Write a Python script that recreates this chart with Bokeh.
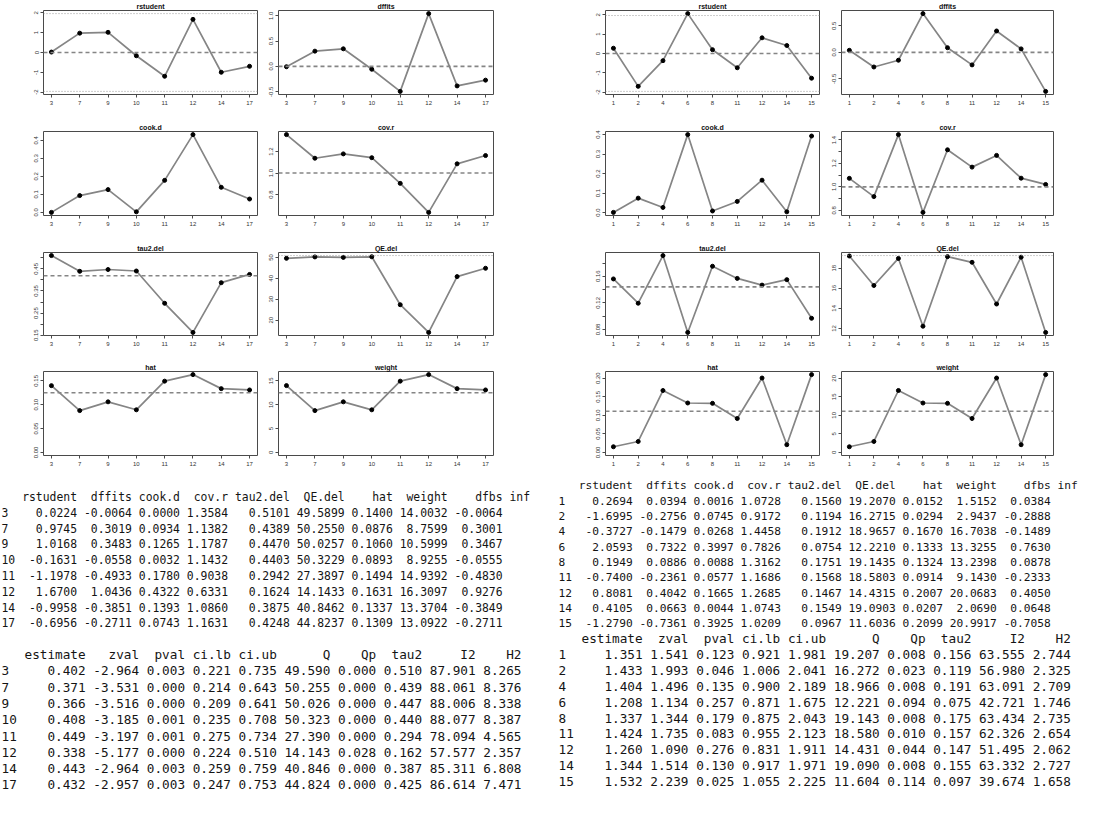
from bokeh.plotting import figure
from bokeh.layouts import column, row
from bokeh.models import Range1d, FixedTicker, CustomJSTickFormatter, Span, ColumnDataSource
from bokeh.embed import file_html
from bokeh.resources import INLINE
from bokeh.core.properties import value

# ---------------- data: left analysis ----------------
ids_L = [3, 7, 9, 10, 11, 12, 14, 17]
rstudent_L = [0.0224, 0.9745, 1.0168, -0.1631, -1.1978, 1.6700, -0.9958, -0.6956]
dffits_L = [-0.0064, 0.3019, 0.3483, -0.0558, -0.4933, 1.0436, -0.3851, -0.2711]
cookd_L = [0.0000, 0.0934, 0.1265, 0.0032, 0.1780, 0.4322, 0.1393, 0.0743]
covr_L = [1.3584, 1.1382, 1.1787, 1.1432, 0.9038, 0.6331, 1.0860, 1.1631]
tau2del_L = [0.5101, 0.4389, 0.4470, 0.4403, 0.2942, 0.1624, 0.3875, 0.4248]
QEdel_L = [49.5899, 50.2550, 50.0257, 50.3229, 27.3897, 14.1433, 40.8462, 44.8237]
hat_L = [0.1400, 0.0876, 0.1060, 0.0893, 0.1494, 0.1631, 0.1337, 0.1309]
weight_L = [14.0032, 8.7599, 10.5999, 8.9255, 14.9392, 16.3097, 13.3704, 13.0922]
dfbs_L = [-0.0064, 0.3001, 0.3467, -0.0555, -0.4830, 0.9276, -0.3849, -0.2711]
tau2_full_L = 0.419
QE_full_L = 50.9

est_L = [0.402, 0.371, 0.366, 0.408, 0.449, 0.338, 0.443, 0.432]
zval_L = [-2.964, -3.531, -3.516, -3.185, -3.197, -5.177, -2.964, -2.957]
pval_L = [0.003, 0.000, 0.000, 0.001, 0.001, 0.000, 0.003, 0.003]
cilb_L = [0.221, 0.214, 0.209, 0.235, 0.275, 0.224, 0.259, 0.247]
ciub_L = [0.735, 0.643, 0.641, 0.708, 0.734, 0.510, 0.759, 0.753]
Q_L = [49.590, 50.255, 50.026, 50.323, 27.390, 14.143, 40.846, 44.824]
Qp_L = [0.000, 0.000, 0.000, 0.000, 0.000, 0.028, 0.000, 0.000]
tau2_L = [0.510, 0.439, 0.447, 0.440, 0.294, 0.162, 0.387, 0.425]
I2_L = [87.901, 88.061, 88.006, 88.077, 78.094, 57.577, 85.311, 86.614]
H2_L = [8.265, 8.376, 8.338, 8.387, 4.565, 2.357, 6.808, 7.471]

# ---------------- data: right analysis ----------------
ids_R = [1, 2, 4, 6, 8, 11, 12, 14, 15]
rstudent_R = [0.2694, -1.6995, -0.3727, 2.0593, 0.1949, -0.7400, 0.8081, 0.4105, -1.2790]
dffits_R = [0.0394, -0.2756, -0.1479, 0.7322, 0.0886, -0.2361, 0.4042, 0.0663, -0.7361]
cookd_R = [0.0016, 0.0745, 0.0268, 0.3997, 0.0088, 0.0577, 0.1665, 0.0044, 0.3925]
covr_R = [1.0728, 0.9172, 1.4458, 0.7826, 1.3162, 1.1686, 1.2685, 1.0743, 1.0209]
tau2del_R = [0.1560, 0.1194, 0.1912, 0.0754, 0.1751, 0.1568, 0.1467, 0.1549, 0.0967]
QEdel_R = [19.2070, 16.2715, 18.9657, 12.2210, 19.1435, 18.5803, 14.4315, 19.0903, 11.6036]
hat_R = [0.0152, 0.0294, 0.1670, 0.1333, 0.1324, 0.0914, 0.2007, 0.0207, 0.2099]
weight_R = [1.5152, 2.9437, 16.7038, 13.3255, 13.2398, 9.1430, 20.0683, 2.0690, 20.9917]
dfbs_R = [0.0384, -0.2888, -0.1489, 0.7630, 0.0878, -0.2333, 0.4050, 0.0648, -0.7058]
tau2_full_R = 0.144
QE_full_R = 19.25

est_R = [1.351, 1.433, 1.404, 1.208, 1.337, 1.424, 1.260, 1.344, 1.532]
zval_R = [1.541, 1.993, 1.496, 1.134, 1.344, 1.735, 1.090, 1.514, 2.239]
pval_R = [0.123, 0.046, 0.135, 0.257, 0.179, 0.083, 0.276, 0.130, 0.025]
cilb_R = [0.921, 1.006, 0.900, 0.871, 0.875, 0.955, 0.831, 0.917, 1.055]
ciub_R = [1.981, 2.041, 2.189, 1.675, 2.043, 2.123, 1.911, 1.971, 2.225]
Q_R = [19.207, 16.272, 18.966, 12.221, 19.143, 18.580, 14.431, 19.090, 11.604]
Qp_R = [0.008, 0.023, 0.008, 0.094, 0.008, 0.010, 0.044, 0.008, 0.114]
tau2_R = [0.156, 0.119, 0.191, 0.075, 0.175, 0.157, 0.147, 0.155, 0.097]
I2_R = [63.555, 56.980, 63.091, 42.721, 63.434, 62.326, 51.495, 63.332, 39.674]
H2_R = [2.744, 2.325, 2.709, 1.746, 2.735, 2.654, 2.062, 2.727, 1.658]

# y-axis ticks (value, label) per panel; "" = unlabeled tick
ticks_L = {
    "rstudent": [(-2, "-2"), (-1, "-1"), (0, "0"), (1, "1"), (2, "2")],
    "dffits": [(-0.5, "-0.5"), (0.0, "0.0"), (0.5, "0.5"), (1.0, "1.0")],
    "cook.d": [(0.0, "0.0"), (0.1, "0.1"), (0.2, "0.2"), (0.3, "0.3"), (0.4, "0.4")],
    "cov.r": [(0.8, "0.8"), (1.0, "1.0"), (1.2, "1.2")],
    "tau2.del": [(0.15, "0.15"), (0.20, ""), (0.25, "0.25"), (0.30, ""), (0.35, "0.35"),
                 (0.40, ""), (0.45, "0.45"), (0.50, "")],
    "QE.del": [(20, "20"), (30, "30"), (40, "40"), (50, "50")],
    "hat": [(0.0, "0.00"), (0.05, "0.05"), (0.10, "0.10"), (0.15, "0.15")],
    "weight": [(0, "0"), (5, "5"), (10, "10"), (15, "15")],
}
ticks_R = {
    "rstudent": [(-2, "-2"), (-1, "-1"), (0, "0"), (1, "1"), (2, "2")],
    "dffits": [(-0.5, "-0.5"), (0.0, "0.0"), (0.5, "0.5")],
    "cook.d": [(0.0, "0.0"), (0.1, "0.1"), (0.2, "0.2"), (0.3, "0.3"), (0.4, "0.4")],
    "cov.r": [(0.8, "0.8"), (0.9, ""), (1.0, "1.0"), (1.1, ""), (1.2, "1.2"), (1.3, ""), (1.4, "1.4")],
    "tau2.del": [(0.08, "0.08"), (0.10, ""), (0.12, "0.12"), (0.14, ""), (0.16, "0.16"), (0.18, "")],
    "QE.del": [(12, "12"), (14, "14"), (16, "16"), (18, "18")],
    "hat": [(0.0, "0.00"), (0.05, "0.05"), (0.10, "0.10"), (0.15, "0.15"), (0.20, "0.20")],
    "weight": [(0, "0"), (5, "5"), (10, "10"), (15, "15"), (20, "20")],
}

LINE_COL = "#858585"
BOX_COL = "#4a4a4a"
AX_FONT = "Liberation Sans"

# slot geometry: (width, border_left, border_right) per column; (height, top, bottom) per row
COLS = [(262, 43, 5), (298, 16, 67), (268, 45, 9), (258, 13, 33)]
ROWS = [(121, 8, 27), (121, 8, 27), (119, 8, 26), (114, 8, 20)]


def panel(ids, vals, title, ticks, col, rw, refs, include=(), zero=False):
    n = len(vals)
    xs = list(range(1, n + 1))
    lo_d = min(list(vals) + list(include) + ([0.0] if zero else []))
    hi_d = max(list(vals) + list(include))
    pad = 0.04 * (hi_d - lo_d)
    w, bl, br = COLS[col]
    h, bt, bb = ROWS[rw]
    p = figure(width=w, height=h, output_backend="svg", toolbar_location=None,
               x_range=Range1d(1 - 0.04 * (n - 1), n + 0.04 * (n - 1)),
               y_range=Range1d(lo_d - pad, hi_d + pad),
               min_border_left=bl, min_border_right=br, min_border_top=bt, min_border_bottom=bb,
               title=title)
    p.title.text_font = AX_FONT
    p.title.text_font_size = "7px"
    p.title.text_font_style = "bold"
    p.title.align = "center"
    p.title.standoff = 1
    p.title.offset = 0
    p.title.text_color = "#111111"
    p.xgrid.visible = False
    p.ygrid.visible = False
    p.outline_line_color = BOX_COL
    p.outline_line_width = 1
    for ax in (p.xaxis[0], p.yaxis[0]):
        ax.axis_line_color = None
        ax.major_tick_line_color = BOX_COL
        ax.major_tick_out = 3
        ax.major_tick_in = 0
        ax.minor_tick_line_color = None
        ax.major_label_text_font = AX_FONT
        ax.major_label_text_font_size = "6px"
        ax.major_label_text_color = "#333333"
    p.xaxis.major_label_standoff = 3
    p.yaxis.major_label_standoff = 2
    p.yaxis.major_label_orientation = "vertical"
    p.xaxis.ticker = FixedTicker(ticks=xs)
    p.xaxis.formatter = CustomJSTickFormatter(args=dict(ids=[str(i) for i in ids]), code="""
        const i = Math.round(tick) - 1;
        return (i >= 0 && i < ids.length) ? ids[i] : "";
    """)
    tv = [t[0] for t in ticks]
    tl = [t[1] for t in ticks]
    p.yaxis.ticker = FixedTicker(ticks=tv)
    p.yaxis.formatter = CustomJSTickFormatter(args=dict(tv=tv, tl=tl), code="""
        for (let i = 0; i < tv.length; i++) {
            if (Math.abs(tick - tv[i]) < 1e-9) { return tl[i]; }
        }
        return "";
    """)
    for y, style in refs:
        if style == "dashed":
            p.add_layout(Span(location=y, dimension="width", line_color=LINE_COL,
                              line_width=1.6, line_dash="4 3"))
        else:
            p.add_layout(Span(location=y, dimension="width", line_color="#9a9a9a",
                              line_width=1.0, line_dash="1 2"))
    src = ColumnDataSource(dict(x=xs, y=vals))
    p.line("x", "y", source=src, line_color=LINE_COL, line_width=1.7)
    p.scatter("x", "y", source=src, size=4.0, color="black")
    return p


def side(ids, rs, df, cd, cr, td, qd, ht, wt, tau2_full, qe_full, ticks, c0):
    k = len(ids)
    z = 1.959964
    f = []
    f.append([panel(ids, rs, "rstudent", ticks["rstudent"], c0, 0,
                    [(0, "dashed"), (z, "dotted"), (-z, "dotted")], include=(z, -z)),
              panel(ids, df, "dffits", ticks["dffits"], c0 + 1, 0, [(0, "dashed")])])
    f.append([panel(ids, cd, "cook.d", ticks["cook.d"], c0, 1, []),
              panel(ids, cr, "cov.r", ticks["cov.r"], c0 + 1, 1, [(1, "dashed")])])
    f.append([panel(ids, td, "tau2.del", ticks["tau2.del"], c0, 2, [(tau2_full, "dashed")],
                    include=(tau2_full,)),
              panel(ids, qd, "QE.del", ticks["QE.del"], c0 + 1, 2, [(qe_full, "dotted")],
                    include=(qe_full,))])
    f.append([panel(ids, ht, "hat", ticks["hat"], c0, 3, [(1.0 / k, "dashed")], zero=True),
              panel(ids, wt, "weight", ticks["weight"], c0 + 1, 3, [(100.0 / k, "dashed")], zero=True)])
    return f


FL = side(ids_L, rstudent_L, dffits_L, cookd_L, covr_L, tau2del_L, QEdel_L, hat_L, weight_L,
          tau2_full_L, QE_full_L, ticks_L, 0)
FR = side(ids_R, rstudent_R, dffits_R, cookd_R, covr_R, tau2del_R, QEdel_R, hat_R, weight_R,
          tau2_full_R, QE_full_R, ticks_R, 2)

plot_rows = [row(FL[i][0], FL[i][1], FR[i][0], FR[i][1]) for i in range(4)]

# ---------------- printed tables (R console style) ----------------
TOP = 483
tp = figure(width=1086, height=340, output_backend="svg", toolbar_location=None,
            x_range=Range1d(8, 1094), y_range=Range1d(823, TOP), min_border=0)
tp.axis.visible = False
tp.xgrid.visible = False
tp.ygrid.visible = False
tp.outline_line_color = None

MONO = value("DejaVu Sans Mono")


def put_table(rownames, cols, dec, x0, y0, step, size):
    cw = 0.6021 * float(size.replace("px", ""))
    rn = [str(r) for r in rownames]
    rw = max(len(s) for s in rn)
    xs, ys, tx, al = [], [], [], []
    for i, r in enumerate(rn):
        xs.append(x0); ys.append(y0 + (i + 1) * step); tx.append(r); al.append("left")
    pos = rw
    for name, vals in cols:
        s = [""] * len(rn) if vals is None else [f"{v:.{dec}f}" for v in vals]
        w = max(len(name), max(len(x) for x in s))
        pos += 1 + w
        xe = x0 + pos * cw
        xs.append(xe); ys.append(y0); tx.append(name); al.append("right")
        for i, c in enumerate(s):
            if c:
                xs.append(xe); ys.append(y0 + (i + 1) * step); tx.append(c); al.append("right")
    src = ColumnDataSource(dict(x=xs, y=ys, t=tx, a=al))
    tp.text(x="x", y="y", text="t", text_align="a", source=src, text_font=MONO,
            text_font_size=value(size), text_baseline="middle", text_color="#141414")


put_table(ids_L, [("rstudent", rstudent_L), ("dffits", dffits_L), ("cook.d", cookd_L),
                  ("cov.r", covr_L), ("tau2.del", tau2del_L), ("QE.del", QEdel_L),
                  ("hat", hat_L), ("weight", weight_L), ("dfbs", dfbs_L), ("inf", None)],
          4, 9, 504, 15.8, "11.4px")
put_table(ids_L, [("estimate", est_L), ("zval", zval_L), ("pval", pval_L), ("ci.lb", cilb_L),
                  ("ci.ub", ciub_L), ("Q", Q_L), ("Qp", Qp_L), ("tau2", tau2_L),
                  ("I2", I2_L), ("H2", H2_L)], 3, 9, 662, 16.3, "12.7px")
put_table(ids_R, [("rstudent", rstudent_R), ("dffits", dffits_R), ("cook.d", cookd_R),
                  ("cov.r", covr_R), ("tau2.del", tau2del_R), ("QE.del", QEdel_R),
                  ("hat", hat_R), ("weight", weight_R), ("dfbs", dfbs_R), ("inf", None)],
          4, 566, 493, 15.3, "11.2px")
put_table(ids_R, [("estimate", est_R), ("zval", zval_R), ("pval", pval_R), ("ci.lb", cilb_R),
                  ("ci.ub", ciub_R), ("Q", Q_R), ("Qp", Qp_R), ("tau2", tau2_R),
                  ("I2", I2_R), ("H2", H2_R)], 3, 566, 646, 15.9, "12.7px")

layout = column(*plot_rows, tp)
open("out.html", "w").write(file_html(layout, INLINE))
